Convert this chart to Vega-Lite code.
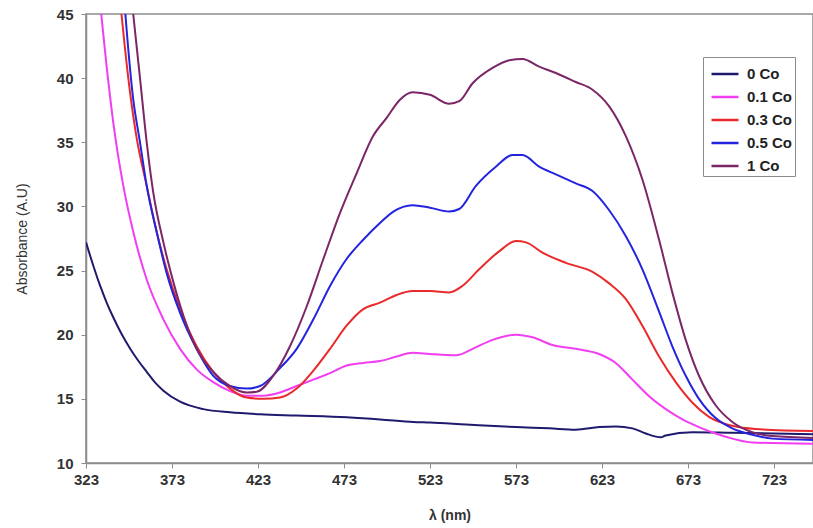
{
  "$schema": "https://vega.github.io/schema/vega-lite/v6.json",
  "width": 727,
  "height": 449,
  "autosize": {"type": "none"},
  "padding": {"left": 86, "top": 14, "right": 0, "bottom": 65},
  "background": "white",
  "config": {
    "view": {"stroke": "#8c8c8c", "strokeWidth": 1.5},
    "font": "Liberation Sans"
  },
  "datasets": {
    "spectra": [
      {"s": "0 Co", "w": 323, "a": 27.2}, {"s": "0 Co", "w": 327.3, "a": 25.36}, {"s": "0 Co", "w": 331.1, "a": 23.86}, {"s": "0 Co", "w": 335, "a": 22.51}, {"s": "0 Co", "w": 338.9, "a": 21.34}, {"s": "0 Co", "w": 343.7, "a": 20.05}, {"s": "0 Co", "w": 348.6, "a": 18.93}, {"s": "0 Co", "w": 353.4, "a": 17.97}, {"s": "0 Co", "w": 358.3, "a": 17.11}, {"s": "0 Co", "w": 363.1, "a": 16.28}, {"s": "0 Co", "w": 368, "a": 15.64}, {"s": "0 Co", "w": 377.7, "a": 14.78}, {"s": "0 Co", "w": 391.2, "a": 14.2}, {"s": "0 Co", "w": 406.7, "a": 13.95}, {"s": "0 Co", "w": 424.2, "a": 13.8}, {"s": "0 Co", "w": 445.5, "a": 13.7}, {"s": "0 Co", "w": 474.5, "a": 13.56}, {"s": "0 Co", "w": 494, "a": 13.4}, {"s": "0 Co", "w": 513.3, "a": 13.2}, {"s": "0 Co", "w": 523, "a": 13.15}, {"s": "0 Co", "w": 543.9, "a": 13.0}, {"s": "0 Co", "w": 573, "a": 12.8}, {"s": "0 Co", "w": 592.3, "a": 12.7}, {"s": "0 Co", "w": 607.8, "a": 12.6}, {"s": "0 Co", "w": 621.4, "a": 12.8}, {"s": "0 Co", "w": 631, "a": 12.85}, {"s": "0 Co", "w": 640.7, "a": 12.7}, {"s": "0 Co", "w": 648.5, "a": 12.3}, {"s": "0 Co", "w": 657.2, "a": 12.0}, {"s": "0 Co", "w": 660, "a": 12.15}, {"s": "0 Co", "w": 675.6, "a": 12.4}, {"s": "0 Co", "w": 698.8, "a": 12.35}, {"s": "0 Co", "w": 745.7, "a": 12.25},

      {"s": "0.1 Co", "w": 328, "a": 50}, {"s": "0.1 Co", "w": 335, "a": 40.9}, {"s": "0.1 Co", "w": 338.9, "a": 36.5}, {"s": "0.1 Co", "w": 344.7, "a": 31.6}, {"s": "0.1 Co", "w": 350.5, "a": 28.0}, {"s": "0.1 Co", "w": 358.3, "a": 24.3}, {"s": "0.1 Co", "w": 368, "a": 21.2}, {"s": "0.1 Co", "w": 377.7, "a": 18.9}, {"s": "0.1 Co", "w": 387.3, "a": 17.3}, {"s": "0.1 Co", "w": 397, "a": 16.3}, {"s": "0.1 Co", "w": 406.7, "a": 15.6}, {"s": "0.1 Co", "w": 416.4, "a": 15.25}, {"s": "0.1 Co", "w": 426.1, "a": 15.25}, {"s": "0.1 Co", "w": 435.8, "a": 15.5}, {"s": "0.1 Co", "w": 445.5, "a": 16.0}, {"s": "0.1 Co", "w": 455.2, "a": 16.5}, {"s": "0.1 Co", "w": 464.9, "a": 17.0}, {"s": "0.1 Co", "w": 474.5, "a": 17.6}, {"s": "0.1 Co", "w": 484.2, "a": 17.8}, {"s": "0.1 Co", "w": 493.9, "a": 17.95}, {"s": "0.1 Co", "w": 503.6, "a": 18.3}, {"s": "0.1 Co", "w": 512.9, "a": 18.6}, {"s": "0.1 Co", "w": 523, "a": 18.5}, {"s": "0.1 Co", "w": 538.1, "a": 18.4}, {"s": "0.1 Co", "w": 547.8, "a": 18.9}, {"s": "0.1 Co", "w": 559.4, "a": 19.6}, {"s": "0.1 Co", "w": 573, "a": 20.0}, {"s": "0.1 Co", "w": 582.6, "a": 19.8}, {"s": "0.1 Co", "w": 594.2, "a": 19.2}, {"s": "0.1 Co", "w": 607.8, "a": 18.9}, {"s": "0.1 Co", "w": 621.4, "a": 18.5}, {"s": "0.1 Co", "w": 631, "a": 17.8}, {"s": "0.1 Co", "w": 640.7, "a": 16.5}, {"s": "0.1 Co", "w": 650.4, "a": 15.2}, {"s": "0.1 Co", "w": 660.1, "a": 14.2}, {"s": "0.1 Co", "w": 669.8, "a": 13.4}, {"s": "0.1 Co", "w": 679.4, "a": 12.8}, {"s": "0.1 Co", "w": 689.1, "a": 12.3}, {"s": "0.1 Co", "w": 698.8, "a": 11.9}, {"s": "0.1 Co", "w": 710.4, "a": 11.6}, {"s": "0.1 Co", "w": 745.7, "a": 11.5},

      {"s": "0.3 Co", "w": 340, "a": 50}, {"s": "0.3 Co", "w": 348.6, "a": 38.9}, {"s": "0.3 Co", "w": 352.5, "a": 35.3}, {"s": "0.3 Co", "w": 358.3, "a": 31.6}, {"s": "0.3 Co", "w": 364.1, "a": 28.0}, {"s": "0.3 Co", "w": 369.9, "a": 25.1}, {"s": "0.3 Co", "w": 377.7, "a": 22.0}, {"s": "0.3 Co", "w": 387.3, "a": 19.1}, {"s": "0.3 Co", "w": 397, "a": 17.1}, {"s": "0.3 Co", "w": 406.7, "a": 15.8}, {"s": "0.3 Co", "w": 416.4, "a": 15.1}, {"s": "0.3 Co", "w": 426.1, "a": 15.0}, {"s": "0.3 Co", "w": 435.8, "a": 15.1}, {"s": "0.3 Co", "w": 445.5, "a": 15.8}, {"s": "0.3 Co", "w": 455.2, "a": 17.2}, {"s": "0.3 Co", "w": 464.9, "a": 18.9}, {"s": "0.3 Co", "w": 474.5, "a": 20.7}, {"s": "0.3 Co", "w": 484.2, "a": 22.0}, {"s": "0.3 Co", "w": 493.9, "a": 22.5}, {"s": "0.3 Co", "w": 503.6, "a": 23.1}, {"s": "0.3 Co", "w": 512.9, "a": 23.4}, {"s": "0.3 Co", "w": 523, "a": 23.4}, {"s": "0.3 Co", "w": 534.2, "a": 23.3}, {"s": "0.3 Co", "w": 541.8, "a": 23.8}, {"s": "0.3 Co", "w": 551.6, "a": 25.1}, {"s": "0.3 Co", "w": 563.2, "a": 26.5}, {"s": "0.3 Co", "w": 573, "a": 27.3}, {"s": "0.3 Co", "w": 578.8, "a": 27.2}, {"s": "0.3 Co", "w": 588.4, "a": 26.4}, {"s": "0.3 Co", "w": 602, "a": 25.6}, {"s": "0.3 Co", "w": 617.5, "a": 24.9}, {"s": "0.3 Co", "w": 627.2, "a": 24.0}, {"s": "0.3 Co", "w": 636.8, "a": 22.8}, {"s": "0.3 Co", "w": 646.5, "a": 20.7}, {"s": "0.3 Co", "w": 656.2, "a": 18.3}, {"s": "0.3 Co", "w": 665.9, "a": 16.3}, {"s": "0.3 Co", "w": 675.6, "a": 14.7}, {"s": "0.3 Co", "w": 685.2, "a": 13.6}, {"s": "0.3 Co", "w": 698.8, "a": 12.9}, {"s": "0.3 Co", "w": 712.4, "a": 12.65}, {"s": "0.3 Co", "w": 745.7, "a": 12.5},

      {"s": "0.5 Co", "w": 343, "a": 50}, {"s": "0.5 Co", "w": 350.5, "a": 38.3}, {"s": "0.5 Co", "w": 354.4, "a": 35.0}, {"s": "0.5 Co", "w": 358.3, "a": 31.6}, {"s": "0.5 Co", "w": 364.1, "a": 28.0}, {"s": "0.5 Co", "w": 369.9, "a": 24.8}, {"s": "0.5 Co", "w": 377.7, "a": 21.7}, {"s": "0.5 Co", "w": 387.3, "a": 18.9}, {"s": "0.5 Co", "w": 397, "a": 16.8}, {"s": "0.5 Co", "w": 406.7, "a": 16.0}, {"s": "0.5 Co", "w": 416.4, "a": 15.8}, {"s": "0.5 Co", "w": 424.2, "a": 16.0}, {"s": "0.5 Co", "w": 435.8, "a": 17.4}, {"s": "0.5 Co", "w": 445.5, "a": 18.9}, {"s": "0.5 Co", "w": 455.2, "a": 21.2}, {"s": "0.5 Co", "w": 464.9, "a": 23.8}, {"s": "0.5 Co", "w": 474.5, "a": 25.9}, {"s": "0.5 Co", "w": 484.2, "a": 27.4}, {"s": "0.5 Co", "w": 493.9, "a": 28.7}, {"s": "0.5 Co", "w": 501.7, "a": 29.6}, {"s": "0.5 Co", "w": 512.9, "a": 30.1}, {"s": "0.5 Co", "w": 523, "a": 29.9}, {"s": "0.5 Co", "w": 534.2, "a": 29.6}, {"s": "0.5 Co", "w": 540, "a": 29.8}, {"s": "0.5 Co", "w": 549.7, "a": 31.6}, {"s": "0.5 Co", "w": 561.3, "a": 33.1}, {"s": "0.5 Co", "w": 571, "a": 34.0}, {"s": "0.5 Co", "w": 576.8, "a": 34.0}, {"s": "0.5 Co", "w": 586.5, "a": 33.1}, {"s": "0.5 Co", "w": 596.2, "a": 32.5}, {"s": "0.5 Co", "w": 607.8, "a": 31.8}, {"s": "0.5 Co", "w": 617.5, "a": 31.2}, {"s": "0.5 Co", "w": 627.2, "a": 29.7}, {"s": "0.5 Co", "w": 636.8, "a": 27.7}, {"s": "0.5 Co", "w": 646.5, "a": 25.1}, {"s": "0.5 Co", "w": 656.2, "a": 21.8}, {"s": "0.5 Co", "w": 663.9, "a": 19.1}, {"s": "0.5 Co", "w": 671.7, "a": 16.8}, {"s": "0.5 Co", "w": 679.4, "a": 15.0}, {"s": "0.5 Co", "w": 689.1, "a": 13.5}, {"s": "0.5 Co", "w": 698.8, "a": 12.7}, {"s": "0.5 Co", "w": 710.4, "a": 12.2}, {"s": "0.5 Co", "w": 722, "a": 11.9}, {"s": "0.5 Co", "w": 745.7, "a": 11.8},

      {"s": "1 Co", "w": 346.5, "a": 50}, {"s": "1 Co", "w": 354.4, "a": 40.0}, {"s": "1 Co", "w": 358.3, "a": 35.0}, {"s": "1 Co", "w": 362.1, "a": 31.1}, {"s": "1 Co", "w": 368, "a": 27.2}, {"s": "1 Co", "w": 373.8, "a": 24.1}, {"s": "1 Co", "w": 379.6, "a": 21.5}, {"s": "1 Co", "w": 387.3, "a": 18.9}, {"s": "1 Co", "w": 397, "a": 17.1}, {"s": "1 Co", "w": 406.7, "a": 16.0}, {"s": "1 Co", "w": 416.4, "a": 15.5}, {"s": "1 Co", "w": 422.2, "a": 15.55}, {"s": "1 Co", "w": 431.9, "a": 16.8}, {"s": "1 Co", "w": 441.6, "a": 19.1}, {"s": "1 Co", "w": 451.3, "a": 22.2}, {"s": "1 Co", "w": 461, "a": 25.9}, {"s": "1 Co", "w": 470.7, "a": 29.5}, {"s": "1 Co", "w": 480.4, "a": 32.6}, {"s": "1 Co", "w": 490, "a": 35.5}, {"s": "1 Co", "w": 497.8, "a": 36.9}, {"s": "1 Co", "w": 505.4, "a": 38.3}, {"s": "1 Co", "w": 512.9, "a": 38.9}, {"s": "1 Co", "w": 523, "a": 38.7}, {"s": "1 Co", "w": 534.2, "a": 38.0}, {"s": "1 Co", "w": 540, "a": 38.2}, {"s": "1 Co", "w": 547.8, "a": 39.6}, {"s": "1 Co", "w": 559.4, "a": 40.8}, {"s": "1 Co", "w": 569.1, "a": 41.4}, {"s": "1 Co", "w": 576.8, "a": 41.5}, {"s": "1 Co", "w": 586.5, "a": 40.9}, {"s": "1 Co", "w": 596.2, "a": 40.4}, {"s": "1 Co", "w": 607.8, "a": 39.7}, {"s": "1 Co", "w": 617.5, "a": 39.1}, {"s": "1 Co", "w": 627.2, "a": 37.8}, {"s": "1 Co", "w": 636.8, "a": 35.5}, {"s": "1 Co", "w": 646.5, "a": 32.1}, {"s": "1 Co", "w": 656.2, "a": 27.4}, {"s": "1 Co", "w": 663.9, "a": 23.3}, {"s": "1 Co", "w": 671.7, "a": 19.6}, {"s": "1 Co", "w": 679.4, "a": 16.8}, {"s": "1 Co", "w": 689.1, "a": 14.5}, {"s": "1 Co", "w": 698.8, "a": 13.2}, {"s": "1 Co", "w": 710.4, "a": 12.4}, {"s": "1 Co", "w": 722, "a": 12.1}, {"s": "1 Co", "w": 745.7, "a": 11.95}
    ]
  },
  "data": {"name": "spectra"},
  "mark": {"type": "line", "clip": true, "strokeWidth": 2, "interpolate": "monotone"},
  "encoding": {
    "x": {
      "field": "w", "type": "quantitative",
      "scale": {"domain": [323, 745.7], "nice": false, "zero": false},
      "axis": {
        "title": "λ (nm)", "values": [323, 373, 423, 473, 523, 573, 623, 673, 723],
        "grid": false, "domainColor": "#8c8c8c", "domainWidth": 1.5, "tickColor": "#8c8c8c", "tickSize": 5,
        "labelFlush": false,
        "labelFont": "Liberation Sans", "labelFontWeight": "bold", "labelFontSize": 15, "labelColor": "#333333", "labelPadding": 4,
        "titleFont": "Liberation Sans", "titleFontWeight": "bold", "titleFontSize": 14, "titleColor": "#333333", "titlePadding": 21
      }
    },
    "y": {
      "field": "a", "type": "quantitative",
      "scale": {"domain": [10, 45], "nice": false, "zero": false},
      "axis": {
        "title": "Absorbance (A.U)", "values": [10, 15, 20, 25, 30, 35, 40, 45],
        "grid": false, "domainColor": "#8c8c8c", "domainWidth": 1.5, "tickColor": "#8c8c8c", "tickSize": 5,
        "labelFlush": false,
        "labelFont": "Liberation Sans", "labelFontWeight": "bold", "labelFontSize": 15, "labelColor": "#333333", "labelPadding": 8,
        "titleFont": "Liberation Sans", "titleFontWeight": "normal", "titleFontSize": 14, "titleColor": "#333333", "titlePadding": 27
      }
    },
    "color": {
      "field": "s", "type": "nominal",
      "scale": {
        "domain": ["0 Co", "0.1 Co", "0.3 Co", "0.5 Co", "1 Co"],
        "range": ["#1f1a6e", "#f23ef2", "#ea2a2a", "#2424e0", "#7b2666"]
      },
      "legend": {
        "title": null, "orient": "none", "legendX": 617, "legendY": 43,
        "symbolType": "stroke", "symbolSize": 729, "symbolStrokeWidth": 2.5, "symbolOffset": 5,
        "labelFont": "Liberation Sans", "labelFontWeight": "bold", "labelFontSize": 15, "labelColor": "#222222", "labelOffset": 7,
        "strokeColor": "#8c8c8c", "fillColor": "white", "padding": 2, "rowPadding": 0,
        "labelLimit": 200
      }
    }
  }
}
